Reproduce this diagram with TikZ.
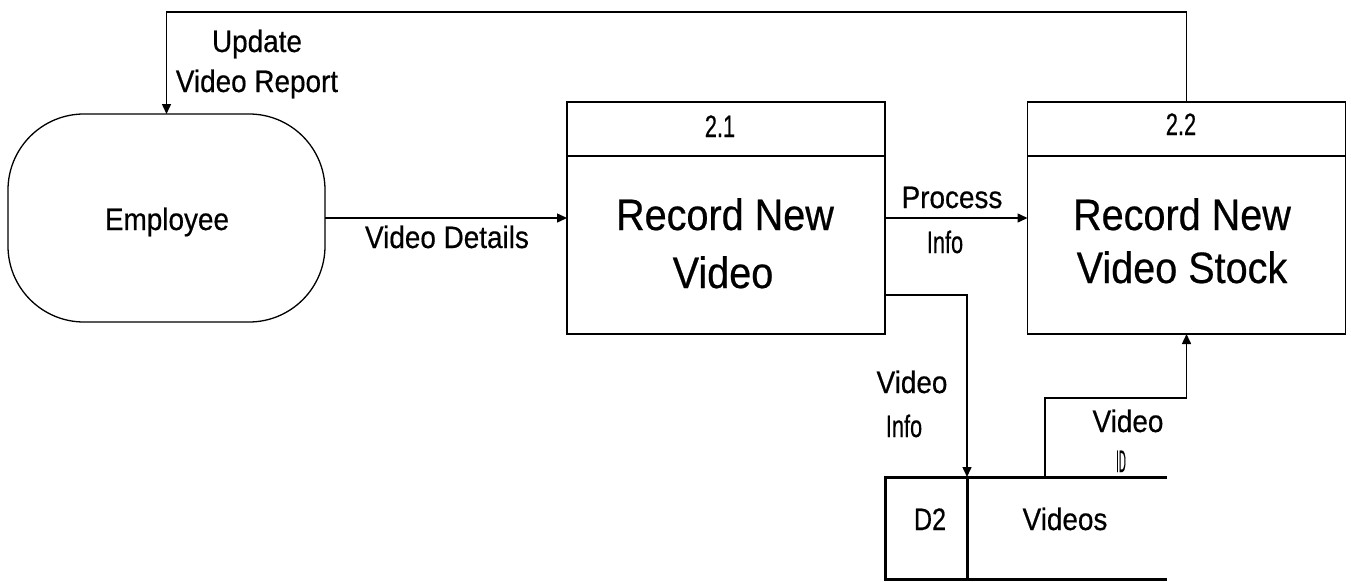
\documentclass[tikz,border=0pt]{standalone}
\usepackage{fontspec}
\setmainfont[FakeStretch=0.9,FakeBold=0.5]{Liberation Sans}
\usetikzlibrary{arrows.meta,calc}
\tikzset{
  every node/.style={inner sep=0pt, outer sep=0pt},
  lbl/.style={anchor=base, font=\fontsize{31}{33}\selectfont},
  big/.style={anchor=base, font=\fontsize{44}{46}\selectfont},
  procbox/.style={draw, line width=1.8pt, minimum width=318pt, minimum height=232pt},
  entity/.style={draw, line width=1.3pt, rounded corners=76pt, minimum width=317pt, minimum height=208pt},
  arr/.style={line width=1.5pt, -{Triangle[width=9pt,length=10pt]}},
  storeline/.style={line width=3pt}
}
\newcommand{\cnd}[2]{\scalebox{#1}[1]{#2}}
\begin{document}
\begin{tikzpicture}[x=1pt,y=-1pt]
\useasboundingbox (0,0) rectangle (1351,581);
% entity
\node[entity] (emp) at (166.5,218) {};
\node[lbl] (emptxt) at (167,230) {Employee};
% processes
\node[procbox] (p21) at (726,218) {};
\draw[line width=1.8pt] ($(p21.north west)+(0,54)$) coordinate (d21a) -- ($(p21.north east)+(0,54)$) coordinate (d21b);
\node[lbl] (n21) at (720,137) {\cnd{0.78}{2.1}};
\node[big] (t21a) at (725,230) {Record New};
\node[big] (t21b) at (723,288) {Video};
\node[procbox] (p22) at (1186.5,218) {};
\draw[line width=1.8pt] ($(p22.north west)+(0,54)$) coordinate (d22a) -- ($(p22.north east)+(0,54)$) coordinate (d22b);
\node[lbl] (n22) at (1181,135) {\cnd{0.78}{2.2}};
\node[big] (t22a) at (1182,230) {Record New};
\node[big] (t22b) at (1182,283) {Video Stock};
% data store
\coordinate (stTL) at (885,477);
\coordinate (stTR) at (1167,477);
\coordinate (stBL) at (885,579);
\coordinate (stBR) at (1167,579);
\coordinate (stIn) at (967,477);
\coordinate (stDivB) at (967,579);
\coordinate (stOut) at (1045,477);
\draw[storeline] (stTR) -- (stTL) -- (stBL) -- (stBR);
\draw[storeline] (stIn) -- (stDivB);
\node[lbl] (d2) at (930,530) {\cnd{0.9}{D2}};
\node[lbl] (vids) at (1065,530) {Videos};
% connectors
\coordinate (topy) at (600,12);
\draw[arr] (p22.north) |- (topy) -| (emp.north);
\node[lbl] (l1a) at (257,52) {Update};
\node[lbl] (l1b) at (257,92) {Video Report};
\draw[arr] (emp.east) -- (p21.west);
\node[lbl] (l2) at (447,248) {Video Details};
\draw[arr] (p21.east) -- (p22.west);
\node[lbl] (l3a) at (952,208) {Process};
\node[lbl] (l3b) at (945,253) {\cnd{0.78}{Info}};
\coordinate (out21) at ($(p21.south east)+(0,-39)$);
\draw[arr] (out21) -| (stIn);
\node[lbl] (l4a) at (912,393) {Video};
\node[lbl] (l4b) at (904,437) {\cnd{0.78}{Info}};
\coordinate (bend) at ($(p22.south)+(0,64)$);
\draw[arr] (stOut) |- (bend) -- (p22.south);
\node[lbl] (l5a) at (1128,432) {Video};
\node[lbl] (l5b) at (1121,472) {\cnd{0.35}{ID}};
\end{tikzpicture}
\end{document}
